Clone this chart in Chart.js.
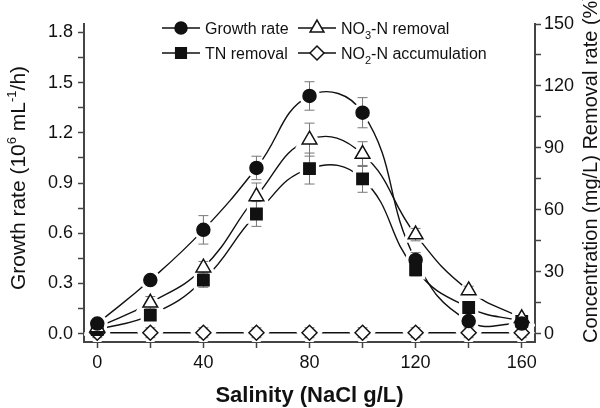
<!DOCTYPE html>
<html>
<head>
<meta charset="utf-8">
<script src="https://cdn.jsdelivr.net/npm/chart.js@4.4.1/dist/chart.umd.min.js"></script>
<style>
  html, body { margin: 0; padding: 0; background: #fff; }
  #wrap { width: 600px; height: 408px; position: relative; }
</style>
</head>
<body>
<div id="wrap"><canvas id="chart"></canvas></div>
<script>
// salinity (NaCl g/L)
const salinity = [0, 20, 40, 60, 80, 100, 120, 140, 160];

// left axis: growth rate (10^6 mL-1/h)
const growthRate = [0.06, 0.32, 0.62, 0.99, 1.42, 1.32, 0.44, 0.075, 0.06];
const growthErr  = [0.01, 0.02, 0.085, 0.07, 0.085, 0.09, 0.045, 0.02, 0.01];

// right axis: removal rate (%) / concentration (mg/L)
const no3Removal = [3, 15, 32, 66.5, 94, 87, 48, 21, 7.5];
const no3Err     = [1, 3, 3, 6.5, 8, 6, 3, 2, 1];
const tnRemoval  = [2, 9, 26, 58, 80, 75, 31, 12.7, 6];
const tnErr      = [1, 2, 3.5, 6, 7.5, 6.5, 3, 2, 1];
const no2Accum   = [0.5, 0.5, 0.5, 0.5, 0.5, 0.5, 0.5, 0.5, 0.5];
const no2Err     = [2.4, 2.4, 2.4, 2.4, 2.4, 2.4, 2.4, 2.4, 2.4];

// tick values
const xMajor = [0, 40, 80, 120, 160];
const xMinor = [20, 60, 100, 140];
const leftMajor = [0, 0.3, 0.6, 0.9, 1.2, 1.5, 1.8];
const leftMinor = [0.15, 0.45, 0.75, 1.05, 1.35, 1.65];
const rightMajor = [0, 30, 60, 90, 120, 150];
const rightMinor = [15, 45, 75, 105, 135];

const FONT = "'Liberation Sans', Arial, sans-serif";
const INK = '#111';
const AXIS = '#444';

const pts = vals => salinity.map((x, i) => ({ x: x, y: vals[i] }));

const series = [
  { vals: growthRate, err: growthErr, axis: 'y',  style: 'circle',   r: 6.5, fill: INK },
  { vals: no3Removal, err: no3Err,    axis: 'y1', style: 'triangle', r: 8.5, fill: '#fff' },
  { vals: tnRemoval,  err: tnErr,     axis: 'y1', style: 'rect',     r: 8,   fill: INK },
  { vals: no2Accum,   err: no2Err,    axis: 'y1', style: 'rectRot',  r: 7.5, fill: '#fff' }
];

const datasets = [];
// curves first
series.forEach(s => datasets.push({
  data: pts(s.vals), yAxisID: s.axis, borderColor: INK, borderWidth: 1.4,
  pointRadius: 0, tension: 0.45, fill: false, order: 3
}));
// white halos to leave a gap between curve and symbol
series.forEach(s => datasets.push({
  data: pts(s.vals), yAxisID: s.axis, showLine: false, pointStyle: s.style,
  pointRadius: s.r, pointBackgroundColor: '#fff', pointBorderColor: '#fff',
  pointBorderWidth: 8, order: 2
}));
// symbols
series.forEach(s => datasets.push({
  data: pts(s.vals), yAxisID: s.axis, showLine: false, pointStyle: s.style,
  pointRadius: s.r, pointBackgroundColor: s.fill, pointBorderColor: INK,
  pointBorderWidth: 1.5, order: 1, errors: s.err
}));

const near = (arr, v) => arr.some(a => Math.abs(a - v) < 1e-6);

function drawMarker(ctx, style, x, y, r, fill) {
  ctx.beginPath();
  if (style === 'circle') {
    ctx.arc(x, y, r, 0, Math.PI * 2);
  } else if (style === 'rect') {
    const s = r * Math.SQRT1_2;
    ctx.rect(x - s, y - s, 2 * s, 2 * s);
  } else if (style === 'triangle') {
    ctx.moveTo(x, y - r);
    ctx.lineTo(x + r * Math.sin(2 * Math.PI / 3), y - r * Math.cos(2 * Math.PI / 3));
    ctx.lineTo(x + r * Math.sin(4 * Math.PI / 3), y - r * Math.cos(4 * Math.PI / 3));
    ctx.closePath();
  } else {
    ctx.moveTo(x - r, y); ctx.lineTo(x, y - r); ctx.lineTo(x + r, y); ctx.lineTo(x, y + r);
    ctx.closePath();
  }
  ctx.fillStyle = fill; ctx.fill();
  ctx.lineWidth = 1.5; ctx.strokeStyle = INK; ctx.stroke();
}

// text runs with sub/superscripts: [text, size, dy, weight]
function richWidth(ctx, parts) {
  let w = 0;
  parts.forEach(p => { ctx.font = (p[3] || 'normal') + ' ' + p[1] + 'px ' + FONT; w += ctx.measureText(p[0]).width; });
  return w;
}
function drawRich(ctx, parts, x, y) {
  ctx.textBaseline = 'alphabetic';
  ctx.textAlign = 'left';
  parts.forEach(p => {
    ctx.font = (p[3] || 'normal') + ' ' + p[1] + 'px ' + FONT;
    ctx.fillText(p[0], x, y + p[2]);
    x += ctx.measureText(p[0]).width;
  });
}

// error bars, drawn after the halos and before the symbols
const errorBars = {
  id: 'errorBars',
  beforeDatasetsDraw(chart) { chart.$errDone = false; },
  beforeDatasetDraw(chart, args) {
    const ds = chart.data.datasets[args.index];
    if (!ds.errors || chart.$errDone) return;
    chart.$errDone = true;
    const ctx = chart.ctx;
    ctx.save();
    ctx.strokeStyle = '#777';
    ctx.lineWidth = 1;
    chart.data.datasets.forEach((d, i) => {
      if (!d.errors) return;
      const meta = chart.getDatasetMeta(i);
      const ys = chart.scales[d.yAxisID];
      meta.data.forEach((el, j) => {
        const v = d.data[j].y, e = d.errors[j];
        const t = ys.getPixelForValue(v + e), b = ys.getPixelForValue(v - e);
        ctx.beginPath();
        ctx.moveTo(el.x, t); ctx.lineTo(el.x, b);
        ctx.moveTo(el.x - 5, t); ctx.lineTo(el.x + 5, t);
        ctx.moveTo(el.x - 5, b); ctx.lineTo(el.x + 5, b);
        ctx.stroke();
      });
    });
    ctx.restore();
  }
};

// axis titles and legend
const decorations = {
  id: 'decorations',
  afterDraw(chart) {
    const ctx = chart.ctx;
    ctx.save();
    ctx.fillStyle = INK;

    // left title
    const lt = [['Growth rate (10', 21, 0], ['6', 13, -9], [' mL', 21, 0], ['-1', 13, -9], ['/h)', 21, 0]];
    ctx.save();
    ctx.translate(25, 178);
    ctx.rotate(-Math.PI / 2);
    drawRich(ctx, lt, -richWidth(ctx, lt) / 2, 0);
    ctx.restore();

    // right title
    ctx.save();
    ctx.translate(596.5, 343);
    ctx.rotate(-Math.PI / 2);
    drawRich(ctx, [['Concentration (mg/L) Removal rate (%)', 20, 0]], 0, 0);
    ctx.restore();

    // bottom title
    const bt = [['Salinity (NaCl g/L)', 22, 0, 'bold']];
    drawRich(ctx, bt, 309.5 - richWidth(ctx, bt) / 2, 402);

    // legend
    const items = [
      { s: series[0], x: 162, y: 28, text: [['Growth rate', 16, 0]] },
      { s: series[1], x: 298, y: 28, text: [['NO', 16, 0], ['3', 11, 5], ['-N removal', 16, 0]] },
      { s: series[2], x: 162, y: 53, text: [['TN removal', 16, 0]] },
      { s: series[3], x: 298, y: 53, text: [['NO', 16, 0], ['2', 11, 5], ['-N accumulation', 16, 0]] }
    ];
    items.forEach(it => {
      ctx.strokeStyle = INK; ctx.lineWidth = 1.5;
      ctx.beginPath(); ctx.moveTo(it.x, it.y); ctx.lineTo(it.x + 38, it.y); ctx.stroke();
      drawMarker(ctx, it.s.style, it.x + 19, it.y, it.s.r - 0.5, it.s.fill);
      ctx.fillStyle = INK;
      drawRich(ctx, it.text, it.x + 43, it.y + 6);
    });
    ctx.restore();
  }
};

const tickFont = { family: FONT, size: 18 };
const gridOpts = { display: true, drawOnChartArea: false, drawTicks: true, tickLength: 6, tickColor: AXIS, tickWidth: 1.5 };
const borderOpts = { display: true, color: AXIS, width: 2 };

new Chart(document.getElementById('chart'), {
  type: 'line',
  data: { datasets: datasets },
  options: {
    responsive: true,
    maintainAspectRatio: false,
    devicePixelRatio: 1,
    animation: false,
    layout: { padding: { top: 24, left: 0, right: 0, bottom: 0 } },
    plugins: { legend: { display: false }, tooltip: { enabled: false } },
    scales: {
      x: {
        type: 'linear', min: -5, max: 165,
        grid: gridOpts, border: borderOpts,
        afterBuildTicks: s => { s.ticks = xMajor.concat(xMinor).sort((a, b) => a - b).map(v => ({ value: v })); },
        afterFit: s => { s.height = 66; },
        ticks: { font: tickFont, color: INK, padding: 4, maxRotation: 0, autoSkip: false,
          callback: v => near(xMajor, v) ? String(v) : '' }
      },
      y: {
        type: 'linear', position: 'left', min: -0.05, max: 1.85,
        grid: gridOpts, border: borderOpts,
        afterBuildTicks: s => { s.ticks = leftMajor.concat(leftMinor).sort((a, b) => a - b).map(v => ({ value: v })); },
        afterFit: s => { s.width = 84; },
        ticks: { font: tickFont, color: INK, padding: 5, autoSkip: false,
          callback: v => near(leftMajor, v) ? v.toFixed(1) : '' }
      },
      y1: {
        type: 'linear', position: 'right', min: -4, max: 150,
        grid: gridOpts, border: borderOpts,
        afterBuildTicks: s => { s.ticks = rightMajor.concat(rightMinor).sort((a, b) => a - b).map(v => ({ value: v })); },
        afterFit: s => { s.width = 65; },
        ticks: { font: tickFont, color: INK, padding: 3, autoSkip: false,
          callback: v => near(rightMajor, v) ? String(v) : '' }
      }
    }
  },
  plugins: [errorBars, decorations]
});
</script>
</body>
</html>
